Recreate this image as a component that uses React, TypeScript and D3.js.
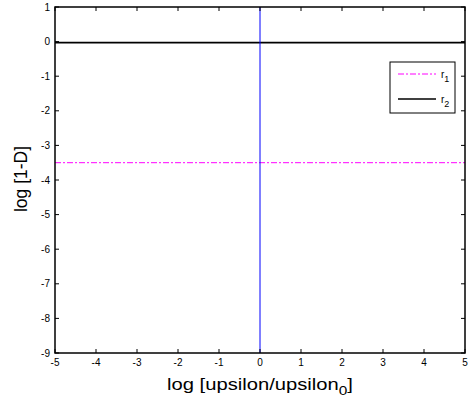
import React from "react";
import * as d3 from "d3";

const xTicks = [-5, -4, -3, -2, -1, 0, 1, 2, 3, 4, 5];
const yTicks = [1, 0, -1, -2, -3, -4, -5, -6, -7, -8, -9];
const r1Value = -3.5;
const r2Value = -0.03;
const vlineX = 0;
const seriesNames = ["r", "r"];
const seriesSubs = ["1", "2"];

export default function App() {
  const W = 469, H = 407;
  const L = 55, R = 465, T = 7, B = 353;
  const x = d3.scaleLinear().domain([-5, 5]).range([L, R]);
  const y = d3.scaleLinear().domain([-9, 1]).range([B, T]);
  const font = "Liberation Sans, Arial, sans-serif";
  const tl = 4;
  const lg = { x: 390, y: 62, w: 65, h: 51 };
  return (
    <svg width={W} height={H} style={{ position: "absolute", left: 0, top: 0, background: "#fff" }}>
      <rect x={0} y={0} width={W} height={H} fill="#fff" />
      {/* data lines */}
      <line x1={x(-5)} x2={x(5)} y1={y(r1Value)} y2={y(r1Value)} stroke="#ff00ff" strokeWidth={1} strokeDasharray="6,2,2,2" />
      <line x1={x(-5)} x2={x(5)} y1={y(r2Value)} y2={y(r2Value)} stroke="#000" strokeWidth={1.6} />
      <line x1={x(vlineX)} x2={x(vlineX)} y1={y(1)} y2={y(-9)} stroke="#0000ff" strokeWidth={1} />
      {/* ticks */}
      {xTicks.map((t) => (
        <g key={"x" + t}>
          <line x1={x(t)} x2={x(t)} y1={B} y2={B - tl} stroke="#000" />
          <line x1={x(t)} x2={x(t)} y1={T} y2={T + tl} stroke="#000" />
          <text x={x(t)} y={366} fontSize={10} fontFamily={font} textAnchor="middle">{t}</text>
        </g>
      ))}
      {yTicks.map((t) => (
        <g key={"y" + t}>
          <line x1={L} x2={L + tl} y1={y(t)} y2={y(t)} stroke="#000" />
          <line x1={R} x2={R - tl} y1={y(t)} y2={y(t)} stroke="#000" />
          <text x={50} y={y(t) + 3.5} fontSize={10} fontFamily={font} textAnchor="end">{t}</text>
        </g>
      ))}
      <rect x={L} y={T} width={R - L} height={B - T} fill="none" stroke="#000" strokeWidth={1.5} />
      {/* legend */}
      <rect x={lg.x} y={lg.y} width={lg.w} height={lg.h} fill="#fff" stroke="#000" strokeWidth={1} />
      <line x1={398} x2={436} y1={74} y2={74} stroke="#ff00ff" strokeWidth={1} strokeDasharray="6,2,2,2" />
      <line x1={398} x2={436} y1={99} y2={99} stroke="#000" strokeWidth={1.6} />
      {seriesNames.map((n, i) => (
        <text key={i} x={441} y={i === 0 ? 78 : 103} fontSize={10} fontFamily={font}>
          {n}
          <tspan fontSize={9} dy={4}>{seriesSubs[i]}</tspan>
        </text>
      ))}
      {/* axis labels */}
      <text x={260} y={390} fontSize={17} fontFamily={font} textAnchor="middle" textLength={186} lengthAdjust="spacingAndGlyphs">
        log [upsilon/upsilon<tspan fontSize={13} dy={5}>0</tspan><tspan dy={-5}>]</tspan>
      </text>
      <text transform={`translate(27,${(T + B) / 2 - 1}) rotate(-90)`} fontSize={17.5} fontFamily={font} textAnchor="middle">
        log [1-D]
      </text>
    </svg>
  );
}
